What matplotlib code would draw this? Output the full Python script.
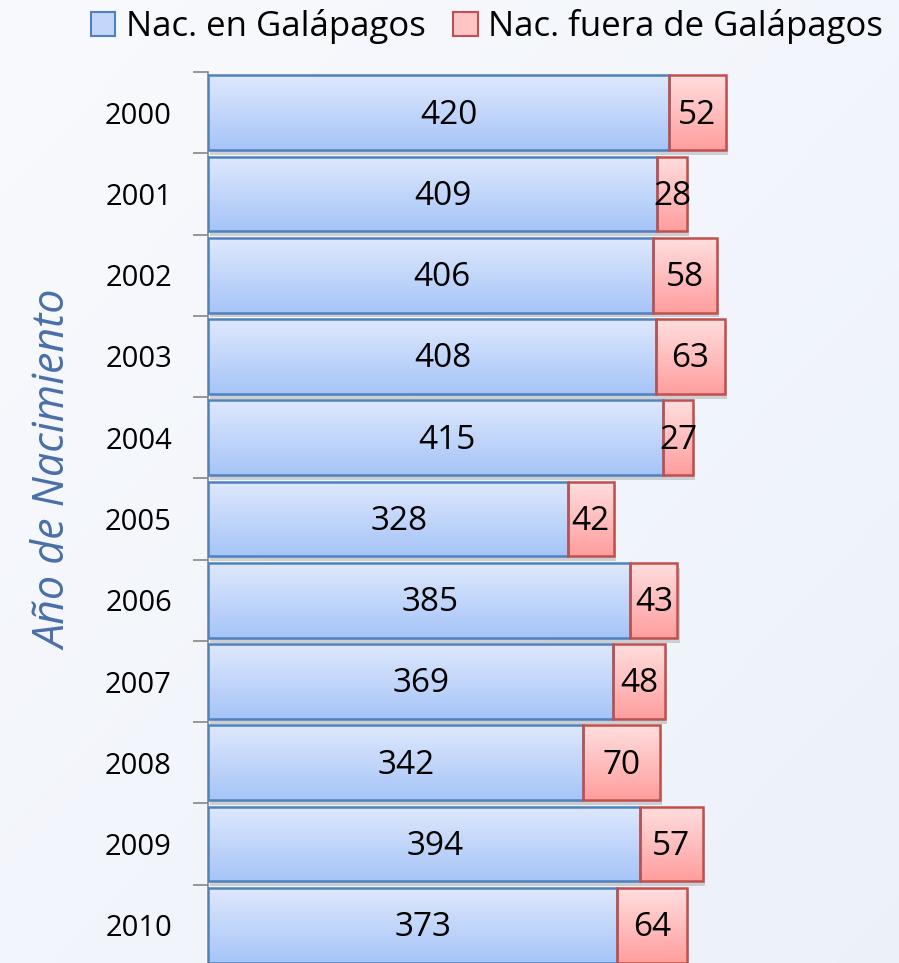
import numpy as np
import matplotlib.pyplot as plt
import matplotlib.patheffects as pe
from matplotlib.patches import Patch

# data
years = ['2000', '2001', '2002', '2003', '2004', '2005', '2006', '2007', '2008', '2009', '2010']
nac_galapagos = [420, 409, 406, 408, 415, 328, 385, 369, 342, 394, 373]
nac_fuera = [52, 28, 58, 63, 27, 42, 43, 48, 70, 57, 64]

plt.rcParams['font.family'] = ['Open Sans', 'DejaVu Sans']

fig = plt.figure(figsize=(8.99, 9.63), dpi=100)

# soft background gradient of the whole figure
bg = fig.add_axes([0, 0, 1, 1], zorder=-10)
gx, gy = np.meshgrid(np.linspace(0, 1, 200), np.linspace(0, 1, 200))
g = (gx * 0.5 + gy * 0.5)
bg_top = np.array([0.976, 0.980, 0.992])
bg_bot = np.array([0.925, 0.945, 0.980])
img = bg_top[None, None, :] * (1 - g[..., None]) + bg_bot[None, None, :] * g[..., None]
bg.imshow(img, extent=[0, 1, 0, 1], aspect='auto')
bg.axis('off')

W, H = 899, 963
ax = fig.add_axes([208 / W, (963 - 966) / H, (899 - 208) / W, (966 - 72) / H])
ax.set_facecolor('none')

y = np.arange(len(years))
bh = 0.92

blue_grad = np.array([[0.87, 0.91, 0.99], [0.65, 0.77, 0.97]])
red_grad = np.array([[1.0, 0.87, 0.87], [1.0, 0.62, 0.62]])


def grad_fill(bars, cols):
    t = np.linspace(0, 1, 64)[:, None]
    im = cols[0][None, :] * (1 - t) + cols[1][None, :] * t
    im = im[:, None, :]
    for b in bars:
        x0, y0 = b.get_x(), b.get_y()
        w, h = b.get_width(), b.get_height()
        gi = ax.imshow(im, extent=[x0, x0 + w, y0 + h, y0], aspect='auto',
                       zorder=2, interpolation='bilinear')
        gi.set_clip_path(b)


shadow = [pe.SimplePatchShadow(offset=(1.5, -3.5), shadow_rgbFace='#a0a0a0', alpha=0.45), pe.Normal()]

b1 = ax.barh(y, nac_galapagos, height=bh, facecolor='none', edgecolor='#4f81bd', linewidth=1.8, zorder=3)
b2 = ax.barh(y, nac_fuera, left=nac_galapagos, height=bh, facecolor='none', edgecolor='#c0504d',
             linewidth=1.8, zorder=3)

# shadow layer underneath
sh1 = ax.barh(y, nac_galapagos, height=bh, color='#dfe8fb', zorder=1.5)
sh2 = ax.barh(y, nac_fuera, left=nac_galapagos, height=bh, color='#fde0e0', zorder=1.5)
for b in list(sh1) + list(sh2):
    b.set_path_effects(shadow)

grad_fill(b1, blue_grad)
grad_fill(b2, red_grad)

for i in range(len(years)):
    ax.text(nac_galapagos[i] / 2 + 10, y[i] + 0.03, str(nac_galapagos[i]), ha='center', va='center',
            fontsize=24, color='black', zorder=5)
    ax.text(nac_galapagos[i] + nac_fuera[i] / 2, y[i] + 0.03, str(nac_fuera[i]), ha='center', va='center',
            fontsize=24, color='black', zorder=5)

ax.set_xlim(0, 630)
ax.set_ylim(len(years) - 0.5, -0.5)
ax.set_yticks(y)
ax.set_yticklabels(years, fontsize=21)
ax.set_yticks(np.arange(-0.5, len(years), 1), minor=True)
ax.tick_params(axis='y', which='major', length=0, pad=26)
ax.tick_params(axis='y', which='minor', length=11, color='#868686', width=1.2)
ax.set_xticks([])
for s in ['top', 'right', 'bottom']:
    ax.spines[s].set_visible(False)
ax.spines['left'].set_color('#868686')
ax.spines['left'].set_linewidth(1.2)

fig.text(55 / W, 1 - 470 / H, 'Año de Nacimiento', rotation=90, ha='center', va='center',
         fontsize=31, style='italic', color='#4a6fa8')

handles = [Patch(facecolor='#c4d7fa', edgecolor='#4f81bd', linewidth=1.5),
           Patch(facecolor='#ffc4c4', edgecolor='#c0504d', linewidth=1.5)]
fig.legend(handles, ['Nac. en Galápagos', 'Nac. fuera de Galápagos'], loc='center',
           bbox_to_anchor=(487 / W, 1 - 27 / H), ncol=2, frameon=False, fontsize=25,
           handlelength=0.7, handleheight=0.7, handletextpad=0.3, columnspacing=0.8)

fig.savefig('out.png', dpi=100)
